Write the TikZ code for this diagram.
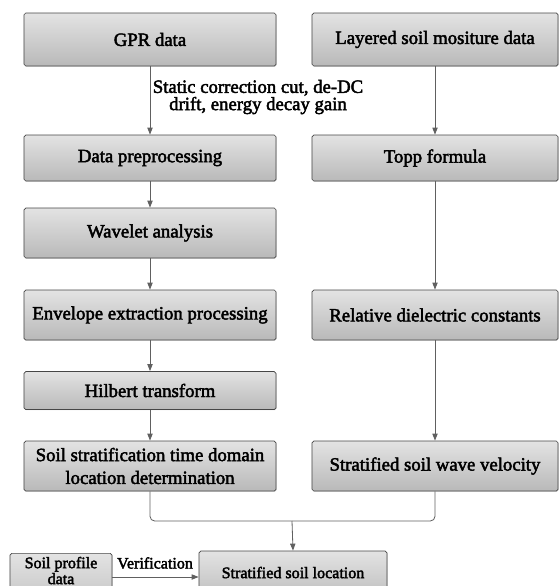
\documentclass[tikz,border=0pt]{standalone}
\usepackage{fontspec}
\setmainfont{Liberation Serif}[FakeBold=2.4]
\usetikzlibrary{arrows.meta,shadows}

\begin{document}
\begin{tikzpicture}[x=0.03cm, y=-0.03cm,
    stage/.style={draw=gray!55!black, line width=0.6pt, rounded corners=1.5pt, top color=gray!22, bottom color=gray!55, align=center, inner sep=0pt, font=\fontsize{16}{19.5}\selectfont, drop shadow={shadow xshift=0.6pt, shadow yshift=-0.6pt, opacity=0.35}},
    leftstage/.style={stage, minimum width=7.56cm},
    rightstage/.style={stage, minimum width=7.38cm},
    smallstage/.style={stage, font=\fontsize{13.7}{13.6}\selectfont},
    flow/.style={draw=gray!75!black, line width=0.7pt, -{Triangle[length=6pt,width=4.5pt]}},
    note/.style={align=center, inner sep=0pt, font=\fontsize{16}{12}\selectfont},
  ]

\useasboundingbox (0,0) rectangle (560,586);
\clip (0,0) rectangle (560,586);

% left column
\node[leftstage, minimum height=1.59cm] (gpr) at (150,39.5) {GPR data};
\node[leftstage, minimum height=1.38cm] (prep) at (150,158) {Data preprocessing};
\node[leftstage, minimum height=1.5cm] (wavelet) at (150,233) {Wavelet analysis};
\node[leftstage, minimum height=1.5cm] (envelope) at (150,315) {Envelope extraction processing};
\node[leftstage, minimum height=1.14cm] (hilbert) at (150,390.5) {Hilbert transform};
\node[leftstage, minimum height=1.5cm] (timedomain) at (150,466) {Soil stratification time domain\\location determination};

% right column
\node[rightstage, minimum height=1.59cm] (layered) at (435,39.5) {Layered soil mositure data};
\node[rightstage, minimum height=1.38cm] (topp) at (435,158) {Topp formula};
\node[rightstage, minimum height=1.5cm] (dielectric) at (435,315) {Relative dielectric constants};
\node[rightstage, minimum height=1.5cm] (velocity) at (435,466) {Stratified soil wave velocity};

% bottom
\node[smallstage, minimum width=5.64cm, minimum height=1.62cm] (location) at (293,578) {\raisebox{1.5ex}{Stratified soil location}};
\node[smallstage, minimum width=3.06cm, anchor=north, inner ysep=3pt, text depth=30pt] (profile) at (61,553) {Soil profile\\data};

\node[note] (cut) at (258,97) {Static correction cut, de-DC\\drift, energy decay gain};
\node[note, font=\fontsize{13.7}{14}\selectfont] (verif) at (155,563) {Verification};

\foreach \a/\b in {gpr/prep, prep/wavelet, wavelet/envelope, envelope/hilbert, hilbert/timedomain, layered/topp, topp/dielectric, dielectric/velocity}
    \draw[flow] (\a) -- (\b);

\coordinate (join) at (292,521);
\draw[flow, -, rounded corners=4pt] (timedomain.south) |- (join) -| (velocity.south);
\draw[flow] (join) -- (location.north);
\draw[flow] (profile.east |- 0,577) -- (location.west |- 0,577);
\end{tikzpicture}
\end{document}
